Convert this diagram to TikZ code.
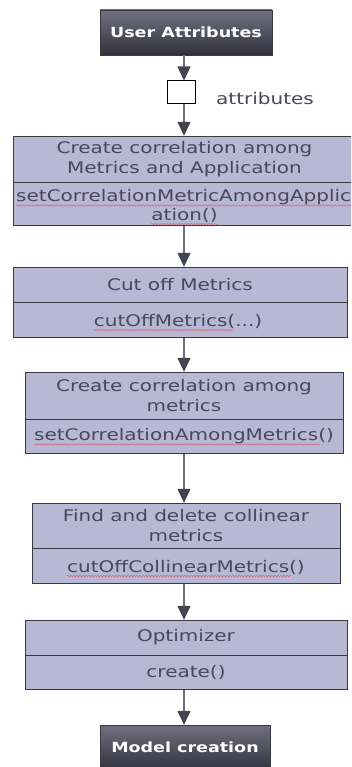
\documentclass[tikz,border=0pt]{standalone}
\usepackage{fontspec}
\setmainfont{DejaVu Sans}[FakeStretch=1.25]
\usepackage{tikz}
\usetikzlibrary{arrows.meta,positioning,decorations.pathmorphing}
\definecolor{boxfill}{RGB}{182,184,212}
\definecolor{boxline}{RGB}{58,58,66}
\definecolor{inkgray}{RGB}{72,72,92}
\definecolor{arrowgray}{RGB}{112,112,118}
\definecolor{tipgray}{RGB}{68,68,80}
\definecolor{termtop}{RGB}{112,112,128}
\definecolor{termbot}{RGB}{50,50,62}
\definecolor{squiggle}{RGB}{222,96,120}

\begin{document}
\begin{tikzpicture}[
        x=1pt,y=-1pt,
        font=\fontsize{16}{20}\selectfont,
        term/.style={rectangle,draw=boxline,top color=termtop,bottom color=termbot,
                     text=white,font=\fontsize{14}{17}\selectfont\bfseries,
                     minimum width=172pt,minimum height=45pt,inner sep=0pt},
        partbox/.style={rectangle,draw=boxline,fill=boxfill,text=inkgray,
                        align=center,inner sep=0pt},
        methtext/.style={text=inkgray,inner sep=0pt},
        flow/.style={draw=arrowgray,line width=1.3pt,
                     -{Triangle[width=13pt,length=14pt,color=tipgray]}},
        wavy/.style={draw=squiggle,line width=0.5pt,decorate,
                     decoration={snake,amplitude=0.7pt,segment length=3pt}}
      ]
        \useasboundingbox (0,0) rectangle (351,767);
        \clip (0,0) rectangle (351,767);
        \coordinate (axis) at (184,0);

        % start and input pin
        \node[term] (user) at (186,32.5) {User Attributes};
        \node[draw=black,fill=white,line width=1pt,minimum width=28pt,
              minimum height=23pt,inner sep=0pt] (pin) at (181,92.5) {};
        \node[text=inkgray,anchor=west,inner sep=0pt] (pinlbl) at (216,99) {attributes};

        % correlation metrics / application
        \node[partbox,minimum width=343pt,minimum height=46pt] (corrT) at (184.5,159)
          {Create correlation among\\Metrics and Application};
        \node[partbox,minimum width=343pt,minimum height=43pt,below=0pt of corrT] (corrM) {};
        \node[methtext,anchor=west] (corrMa) at (16,197) {setCorrelationMetricAmongApplic};
        \node[methtext] (corrMb) at (184.5,215) {ation()};

        % cut off
        \node[partbox,minimum width=334pt,minimum height=35pt] (cutT) at (180,284.5)
          {Cut off Metrics};
        \node[partbox,minimum width=334pt,minimum height=35pt,below=0pt of cutT] (cutM) {};
        \node[methtext] (cutMa) at (178,321) {cutOffMetrics(...)};

        % correlation among metrics
        \node[partbox,minimum width=318pt,minimum height=47pt] (amongT) at (184,395.5)
          {Create correlation among\\metrics};
        \node[partbox,minimum width=318pt,minimum height=34pt,below=0pt of amongT] (amongM) {};
        \node[methtext] (amongMa) at (184,436) {setCorrelationAmongMetrics()};

        % collinear
        \node[partbox,minimum width=308pt,minimum height=45pt] (collT) at (186,525.5)
          {Find and delete collinear\\metrics};
        \node[partbox,minimum width=308pt,minimum height=35pt,below=0pt of collT] (collM) {};
        \node[methtext] (collMa) at (186,567) {cutOffCollinearMetrics()};

        % optimizer
        \node[partbox,minimum width=322pt,minimum height=35pt] (optT) at (186,637.5)
          {Optimizer};
        \node[partbox,minimum width=322pt,minimum height=34pt,below=0pt of optT] (optM) {};
        \node[methtext] (optMa) at (186,672) {create()};

        \node[term,minimum width=170pt] (model) at (185,747.5) {Model creation};

        % spell-check squiggles
        \draw[wavy] ([yshift=-4pt]corrMa.base west) -- ([yshift=-4pt]corrMa.base east);
        \draw[wavy] ([yshift=-4pt]corrMb.base west) -- ([yshift=-4pt]corrMb.base east);
        \draw[wavy] ([yshift=-4pt]cutMa.base west) -- ([yshift=-4pt,xshift=-30pt]cutMa.base east);
        \draw[wavy] ([yshift=-4pt]amongMa.base west) -- ([yshift=-4pt,xshift=-14pt]amongMa.base east);
        \draw[wavy] ([yshift=-4pt]collMa.base west) -- ([yshift=-4pt,xshift=-14pt]collMa.base east);

        % connectors
        \draw[flow] (axis |- user.south) -- (axis |- pin.north);
        \draw[flow] (axis |- pin.south) -- (axis |- corrT.north);
        \draw[flow] (axis |- corrM.south) -- (axis |- cutT.north);
        \draw[flow] (axis |- cutM.south) -- (axis |- amongT.north);
        \draw[flow] (axis |- amongM.south) -- (axis |- collT.north);
        \draw[flow] (axis |- collM.south) -- (axis |- optT.north);
        \draw[flow] (axis |- optM.south) -- (axis |- model.north);
      \end{tikzpicture}
\end{document}
